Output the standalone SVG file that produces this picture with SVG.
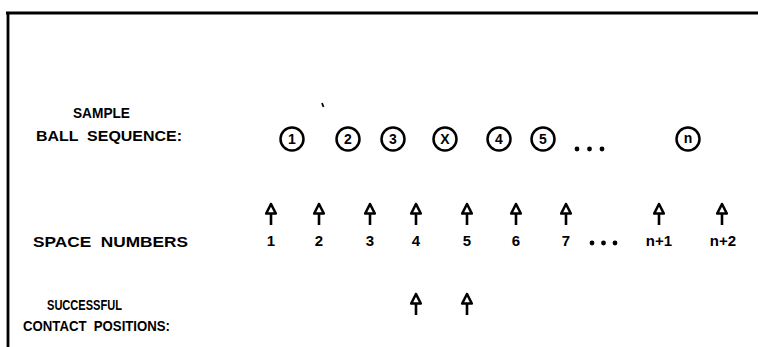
<svg xmlns="http://www.w3.org/2000/svg" xmlns:xlink="http://www.w3.org/1999/xlink" width="758" height="347" viewBox="0 0 758 347">
<style>
.lbl{font-family:"Liberation Sans","DejaVu Sans",sans-serif;font-weight:bold;font-size:15.5px;fill:#000}
.num{font-family:"Liberation Sans","DejaVu Sans",sans-serif;font-weight:bold;font-size:15px;fill:#000;text-anchor:middle}
.cn{font-family:"Liberation Sans","DejaVu Sans",sans-serif;font-weight:bold;font-size:14px;fill:#000;text-anchor:middle}
.ball{fill:#fff;stroke:#000;stroke-width:2.5}
.frame{stroke:#000;stroke-width:2.8;fill:none}
.arr{fill:#fff;stroke:#000;stroke-width:2.6;stroke-linejoin:round}
.dot{fill:#000}
</style>
<defs>
<g id="arrow">
<path class="arr" d="M0,0 L-4.8,9.5 L4.8,9.5 Z M0,9.5 L0,21"/>
</g>
</defs>
<rect width="758" height="347" fill="#fff"/>
<g id="frame">
<line class="frame" x1="6" y1="13" x2="758" y2="13"/>
<line class="frame" x1="8" y1="13" x2="8" y2="347"/>
</g>
<path d="M322,103 l1.5,4" stroke="#000" stroke-width="1.8"/>
<g id="labels">
<text class="lbl" x="73" y="118" textLength="57" lengthAdjust="spacingAndGlyphs">SAMPLE</text>
<text class="lbl" x="36" y="141" textLength="146" lengthAdjust="spacingAndGlyphs" xml:space="preserve">BALL  SEQUENCE:</text>
<text class="lbl" x="33" y="247" textLength="155" lengthAdjust="spacingAndGlyphs" xml:space="preserve">SPACE  NUMBERS</text>
<text class="lbl" x="47" y="310" textLength="75" lengthAdjust="spacingAndGlyphs">SUCCESSFUL</text>
<text class="lbl" x="23" y="331" textLength="147" lengthAdjust="spacingAndGlyphs" xml:space="preserve">CONTACT  POSITIONS:</text>
</g>
<g id="balls">
<g id="ball-1"><circle class="ball" cx="292" cy="139" r="11.5"/><text class="cn" x="292" y="144">1</text></g>
<g id="ball-2"><circle class="ball" cx="348" cy="139" r="11.5"/><text class="cn" x="348" y="144">2</text></g>
<g id="ball-3"><circle class="ball" cx="393" cy="139" r="11.5"/><text class="cn" x="393" y="144">3</text></g>
<g id="ball-x"><circle class="ball" cx="445" cy="139" r="11.5"/><text class="cn" x="445" y="144">X</text></g>
<g id="ball-4"><circle class="ball" cx="499" cy="139" r="11.5"/><text class="cn" x="499" y="144">4</text></g>
<g id="ball-5"><circle class="ball" cx="543" cy="139" r="11.5"/><text class="cn" x="543" y="144">5</text></g>
<g id="ball-dots"><circle class="dot" cx="577" cy="149" r="2.4"/><circle class="dot" cx="589.5" cy="149" r="2.4"/><circle class="dot" cx="602" cy="149" r="2.4"/></g>
<g id="ball-n"><circle class="ball" cx="688" cy="139" r="11.5"/><text class="cn" x="688" y="143">n</text></g>
</g>
<g id="connectors">
<use xlink:href="#arrow" x="271" y="204"/>
<use xlink:href="#arrow" x="319" y="204"/>
<use xlink:href="#arrow" x="370" y="204"/>
<use xlink:href="#arrow" x="416" y="204"/>
<use xlink:href="#arrow" x="467" y="204"/>
<use xlink:href="#arrow" x="516" y="204"/>
<use xlink:href="#arrow" x="566" y="204"/>
<use xlink:href="#arrow" x="659" y="204"/>
<use xlink:href="#arrow" x="722" y="204"/>
<use xlink:href="#arrow" x="416" y="294"/>
<use xlink:href="#arrow" x="467" y="294"/>
</g>
<g id="space-numbers">
<text class="num" x="271" y="246">1</text>
<text class="num" x="319" y="246">2</text>
<text class="num" x="370" y="246">3</text>
<text class="num" x="416" y="246">4</text>
<text class="num" x="467" y="246">5</text>
<text class="num" x="516" y="246">6</text>
<text class="num" x="566" y="246">7</text>
<circle class="dot" cx="592" cy="243" r="2.4"/><circle class="dot" cx="603.5" cy="243" r="2.4"/><circle class="dot" cx="615" cy="243" r="2.4"/>
<text class="num" x="659" y="246">n+1</text>
<text class="num" x="723" y="246">n+2</text>
</g>
</svg>
